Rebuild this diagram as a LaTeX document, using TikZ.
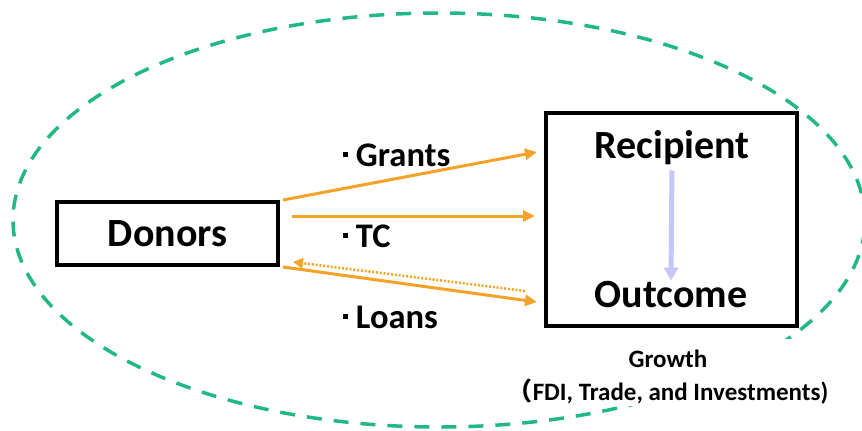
\documentclass[tikz,border=0pt]{standalone}
\usepackage{fontspec}
\setmainfont{Carlito}
\newfontfamily\cjkfont{Noto Sans CJK JP}
\usetikzlibrary{arrows.meta,calc}
\definecolor{orng}{RGB}{244,162,40}
\definecolor{ringgreen}{RGB}{34,184,130}
\definecolor{lav}{RGB}{198,198,250}
\newcommand\mybullet{\rule[0.26em]{0.15em}{0.15em}\hspace{0.22em}}
\tikzset{
  ring/.style={draw=ringgreen, line width=3.5bp, dash pattern=on 15bp off 12bp},
  box/.style={draw=black, line width=3.5bp, outer sep=0pt, inner sep=0pt, font=\fontsize{40bp}{48bp}\selectfont\bfseries},
  big/.style={inner sep=0pt, font=\fontsize{40bp}{48bp}\selectfont\bfseries},
  lbl/.style={inner sep=0pt, font=\fontsize{34.5bp}{40bp}\selectfont\bfseries},
  oarrow/.style={draw=orng, line width=3bp, -{Triangle[length=12bp,width=11bp]}},
  odots/.style={draw=orng, line width=2.5bp, dash pattern=on 2bp off 1.8bp, -{Triangle[length=10bp,width=10bp]}},
  lavarrow/.style={draw=lav, line width=5bp, -{Triangle[length=13bp,width=14bp]}},
  growth/.style={align=center, inner sep=0pt, font=\fontsize{25bp}{33bp}\selectfont\bfseries}
}
\begin{document}
\begin{tikzpicture}[x=1bp,y=-1bp]
\useasboundingbox (0,0) rectangle (862,430);
\draw[ring] (439,220) ellipse [x radius=426bp, y radius=207bp];
\fill[white] (503,339) rectangle (834,406);
\node[growth, anchor=base] (growth) at (668,400) {Growth\\{\cjkfont （}FDI, Trade, and Investments)};
\node[box, minimum width=221bp, minimum height=63bp] (donors) at (167.5,233.5) {Donors};
\node[box, minimum width=251bp, minimum height=213bp] (rec) at (671.5,219.5) {};
\node[big, anchor=base] (reclab) at (672,158) {Recipient};
\node[big, anchor=base] (outlab) at (671,307) {Outcome};
\draw[lavarrow, shorten <=6bp] (reclab.south) -- (outlab.north);
\draw[oarrow] ($(donors.north east)+(5,-2)$) -- ($(rec.north west)+(-9,39)$);
\draw[oarrow] ($(donors.east)+(14,-17.5)$) -- ($(rec.west)+(-11,-3.5)$);
\draw[odots] ($(rec.south west)+(-21,-35)$) -- ($(donors.south east)+(15,-3)$);
\draw[oarrow] ($(donors.south east)+(5,2)$) -- ($(rec.south west)+(-9,-24)$);
\node[lbl, anchor=base west] (grants) at (343,166) {\mybullet Grants};
\node[lbl, anchor=base west] (tc) at (343,247) {\mybullet TC};
\node[lbl, anchor=base west] (loans) at (343,328) {\mybullet Loans};
\end{tikzpicture}
\end{document}
